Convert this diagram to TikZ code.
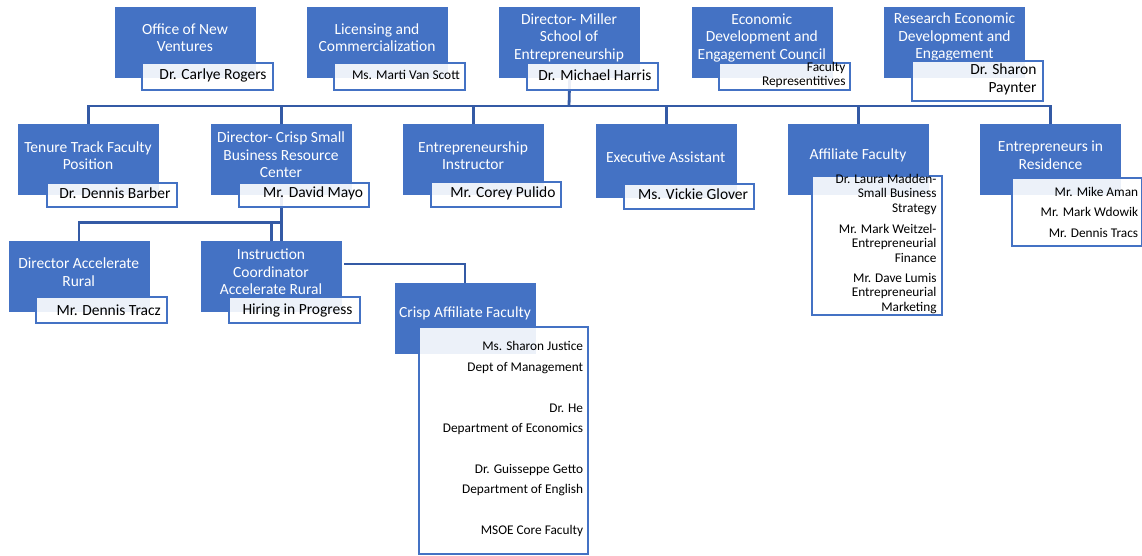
\documentclass[tikz,border=0pt]{standalone}
\usepackage{fontspec}
\setmainfont{Carlito}
\usetikzlibrary{backgrounds,calc}
\definecolor{cblue}{RGB}{68,114,196}
\definecolor{cline}{RGB}{52,90,165}
\begin{document}
\begin{tikzpicture}[x=1pt,y=-1pt,
 bluebox/.style={fill=cblue, draw=none, anchor=north west, inner sep=0pt, minimum width=141pt, minimum height=71pt},
 whitebox/.style={draw=cblue, line width=2pt, fill=white, fill opacity=0.9, anchor=north west, inner sep=0pt},
 btxt/.style={text=white, align=center, font=\fontsize{15.5}{17.5}\selectfont, inner sep=0pt},
 ntxt/.style={text=black, align=right, anchor=east, font=\fontsize{15.5}{17.5}\selectfont, inner sep=0pt},
 stxt/.style={ntxt, font=\fontsize{13.3}{14.5}\selectfont},
 conn/.style={draw=cline, line width=2.8pt}]
\useasboundingbox (0,0) rectangle (1142,555);
% blue boxes
\node[bluebox] (b1) at (114.7,7) {};
\node[bluebox] (b2) at (306.7,7) {};
\node[bluebox] (b3) at (499,7) {};
\node[bluebox] (b4) at (691.7,7) {};
\node[bluebox] (b5) at (884,7) {};
\node[bluebox] (b6) at (18,124) {};
\node[bluebox] (b7) at (210.7,124) {};
\node[bluebox] (b8) at (403,124) {};
\node[bluebox, minimum height=74pt] (b9) at (595.7,124) {};
\node[bluebox] (b10) at (788,124) {};
\node[bluebox] (b11) at (980,124) {};
\node[bluebox] (b12) at (8.3,241) {};
\node[bluebox] (b13) at (201,241) {};
\node[bluebox] (b14) at (394.3,282.7) {};
% blue texts
\node[btxt] (t1) at (185,37.5) {Office of New\\Ventures};
\node[btxt] (t2) at (377,37.5) {Licensing and\\Commercialization};
\node[btxt] (t3) at (569,37.7) {Director- Miller\\School of\\Entrepreneurship};
\node[btxt] (t4) at (761.8,37.5) {Economic\\Development and\\Engagement Council};
\node[btxt] (t5) at (954.5,37) {Research Economic\\Development and\\Engagement};
\node[btxt] (t6) at (88,155.5) {Tenure Track Faculty\\Position};
\node[btxt] (t7) at (281,155) {Director- Crisp Small\\Business Resource\\Center};
\node[btxt] (t8) at (473,155.5) {Entrepreneurship\\Instructor};
\node[btxt] (t9) at (665.7,157.3) {Executive Assistant};
\node[btxt] (t10) at (858,155) {Affiliate Faculty};
\node[btxt] (t11) at (1050.5,155) {Entrepreneurs in\\Residence};
\node[btxt] (t12) at (78.7,272.2) {Director Accelerate\\Rural};
\node[btxt] (t13) at (271,271.7) {Instruction\\Coordinator\\Accelerate Rural};
\node[btxt] (t14) at (465,313.3) {Crisp Affiliate Faculty};
% white boxes
\node[whitebox, minimum width=131pt, minimum height=27pt] (w1) at (140.7,62) {};
\node[whitebox, minimum width=131pt, minimum height=27pt] (w2) at (333,62) {};
\node[whitebox, minimum width=131pt, minimum height=27pt] (w3) at (525.7,62) {};
\node[whitebox, minimum width=131pt, minimum height=27pt] (w4) at (718,62) {};
\node[whitebox, minimum width=131pt, minimum height=40pt] (w5) at (910.7,60) {};
\node[whitebox, minimum width=130pt, minimum height=24pt] (w6) at (45.7,182) {};
\node[whitebox, minimum width=130pt, minimum height=24pt] (w7) at (237.7,182) {};
\node[whitebox, minimum width=130pt, minimum height=25pt] (w8) at (430,181) {};
\node[whitebox, minimum width=130pt, minimum height=25pt] (w9) at (623,183) {};
\node[whitebox, minimum width=130pt, minimum height=139pt] (w10) at (810.7,175) {};
\node[whitebox, minimum width=130pt, minimum height=68pt] (w11) at (1011,177.3) {};
\node[whitebox, minimum width=131pt, minimum height=26pt] (w12) at (35,296) {};
\node[whitebox, minimum width=131pt, minimum height=26pt] (w13) at (227.7,296) {};
\node[whitebox, minimum width=169pt, minimum height=227pt] (w14) at (418.3,325.7) {};
% names
\node[ntxt] (n1) at (266.7,75) {Dr. Carlye Rogers};
\node[ntxt, font=\fontsize{13.4}{14}\selectfont] (n2) at (460,75) {Ms. Marti Van Scott};
\node[ntxt] (n3) at (651.7,75) {Dr. Michael Harris};
\node[ntxt, font=\fontsize{13.4}{14}\selectfont] (n4) at (845.7,74.7) {Faculty\\Representitives};
\node[ntxt] (n5) at (1036.7,79.5) {Dr. Sharon\\Paynter};
\node[ntxt] (n6) at (170.7,193.3) {Dr. Dennis Barber};
\node[ntxt] (n7) at (363.3,193) {Mr. David Mayo};
\node[ntxt] (n8) at (555.7,193.3) {Mr. Corey Pulido};
\node[ntxt] (n9) at (748.3,194.3) {Ms. Vickie Glover};
\node[stxt] (n10a) at (936.7,194.5) {Dr. Laura Madden-\\Small Business\\Strategy};
\node[stxt] (n10b) at (936.7,243.1) {Mr. Mark Weitzel-\\Entrepreneurial\\Finance};
\node[stxt] (n10c) at (936.7,293.1) {Mr. Dave Lumis\\Entrepreneurial\\Marketing};
\node[stxt, font=\fontsize{13.3}{20.5}\selectfont] (n11) at (1138.3,212.2) {Mr. Mike Aman\\Mr. Mark Wdowik\\Mr. Dennis Tracs};
\node[ntxt] (n12) at (161,310) {Mr. Dennis Tracz};
\node[ntxt] (n13) at (352.7,310) {Hiring in Progress};
\node[stxt, font=\fontsize{13.3}{20.4}\selectfont] (n14) at (583.3,439.2) {Ms. Sharon Justice\\Dept of Management\\[20.4pt]Dr. He\\Department of Economics\\[20.4pt]Dr. Guisseppe Getto\\Department of English\\[20.4pt]MSOE Core Faculty};
% connectors
\begin{scope}[on background layer]
\coordinate (bus) at (569,106);
\draw[conn] (b3.south) -- (bus);
\draw[conn] (b6.north) |- (bus);
\draw[conn] (b7.north) |- (bus);
\draw[conn] (b8.north) |- (bus);
\draw[conn] (b9.north) |- (bus);
\draw[conn] (b10.north) |- (bus);
\draw[conn] (b11.north) |- (bus);
\coordinate (cb) at ($(b7.south)+(0,26.7)$);
\draw[conn] (b7.south) -- (b7.south |- b13.north);
\draw[conn] (b12.north) |- (cb);
\draw[conn] (b13.north) |- (cb);
\coordinate (ic) at ($(b13.north east)+(2,23)$);
\draw[conn] (ic) -| (b14.north);
\end{scope}
\end{tikzpicture}
\end{document}
